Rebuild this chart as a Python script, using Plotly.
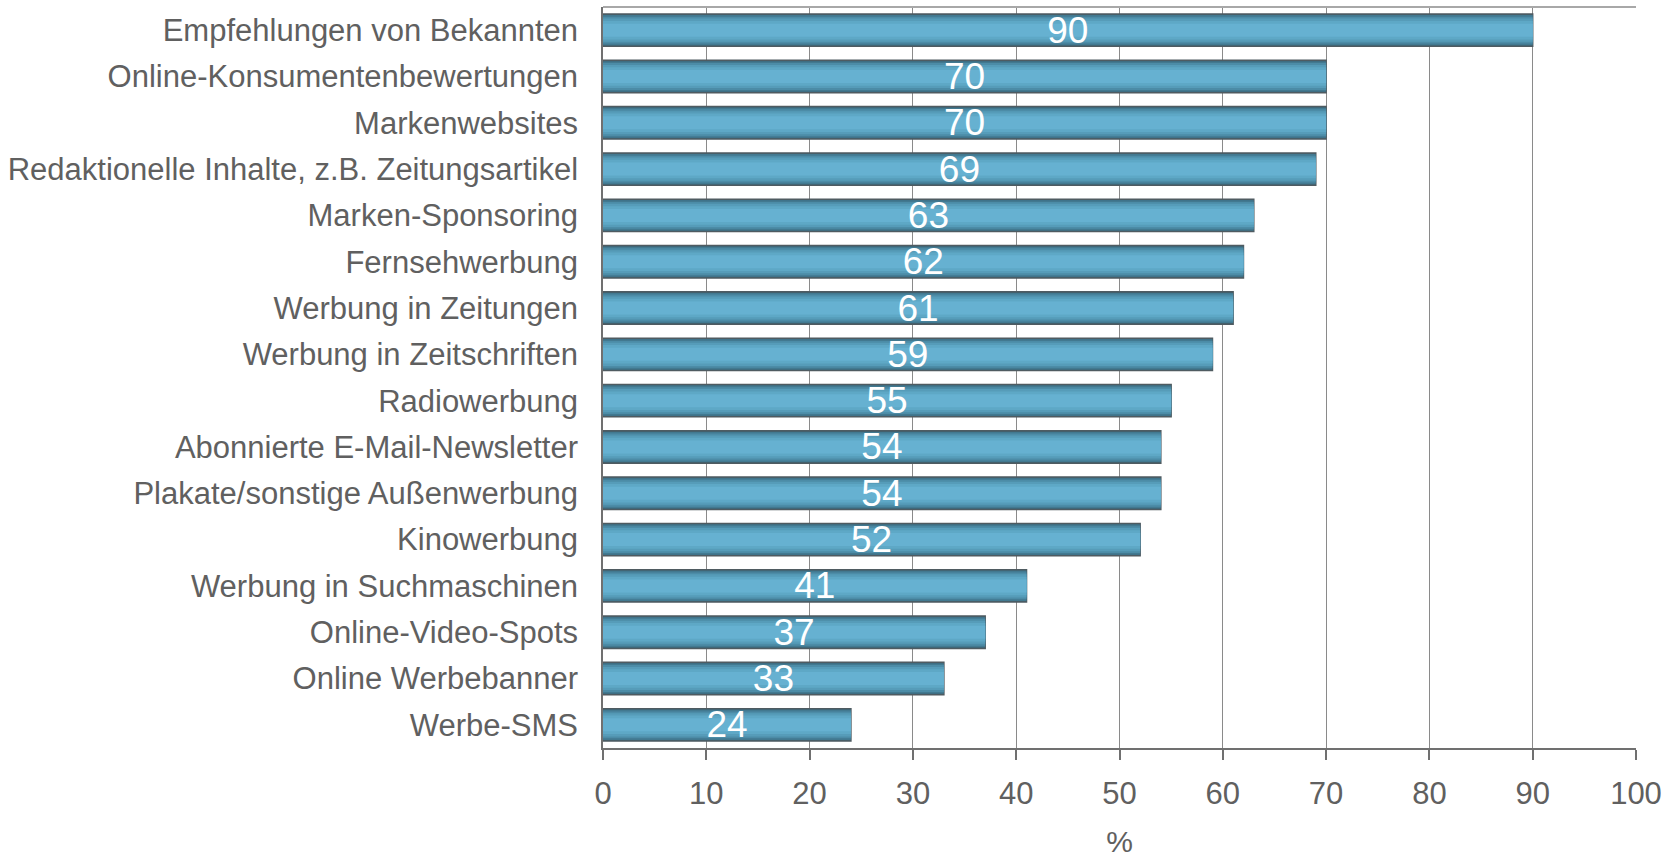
import plotly.graph_objects as go

categories = [
    "Empfehlungen von Bekannten",
    "Online-Konsumentenbewertungen",
    "Markenwebsites",
    "Redaktionelle Inhalte, z.B. Zeitungsartikel",
    "Marken-Sponsoring",
    "Fernsehwerbung",
    "Werbung in Zeitungen",
    "Werbung in Zeitschriften",
    "Radiowerbung",
    "Abonnierte E-Mail-Newsletter",
    "Plakate/sonstige Außenwerbung",
    "Kinowerbung",
    "Werbung in Suchmaschinen",
    "Online-Video-Spots",
    "Online Werbebanner",
    "Werbe-SMS",
]
values = [90, 70, 70, 69, 63, 62, 61, 59, 55, 54, 54, 52, 41, 37, 33, 24]
x_ticks = [0, 10, 20, 30, 40, 50, 60, 70, 80, 90, 100]

# gradient layers (outer -> inner)
layers = [
    (0.70, "#3a6577"),
    (0.65, "#427990"),
    (0.58, "#4c8ca7"),
    (0.50, "#569cb9"),
    (0.40, "#5ea8c6"),
    (0.28, "#66b1d1"),
]

fig = go.Figure()
for i, (w, c) in enumerate(layers):
    last = i == len(layers) - 1
    fig.add_trace(go.Bar(
        y=categories,
        x=values,
        orientation="h",
        width=w,
        marker=dict(color=c,
                    line=dict(color="#4f5b61", width=1.5) if i == 0 else dict(width=0)),
        text=[str(v) for v in values] if last else None,
        textposition="inside" if last else "none",
        insidetextanchor="middle",
        textangle=0,
        constraintext="none",
        textfont=dict(family="Liberation Sans, Arial, sans-serif", size=37, color="white"),
        hoverinfo="skip" if not last else "x+y",
        showlegend=False,
    ))

fig.update_layout(
    barmode="overlay",
    width=1679,
    height=858,
    margin=dict(l=603, r=43, t=7, b=110, autoexpand=False),
    paper_bgcolor="white",
    plot_bgcolor="white",
    font=dict(family="Liberation Sans, Arial, sans-serif", color="#606060"),
)
fig.update_xaxes(
    range=[0, 100],
    tickvals=x_ticks,
    ticktext=[str(t) for t in x_ticks],
    tickfont=dict(size=31, color="#606060"),
    ticks="outside",
    ticklen=10,
    tickwidth=2,
    tickcolor="#707070",
    showline=True,
    linecolor="#707070",
    linewidth=2,
    mirror=False,
    showgrid=True,
    gridcolor="#8a8a8a",
    gridwidth=1,
    zeroline=False,
    automargin=False,
    ticklabelstandoff=7,
    title=dict(text="%", font=dict(size=30, color="#606060"), standoff=28),
)
fig.update_yaxes(
    autorange="reversed",
    tickfont=dict(size=31, color="#606060"),
    ticks="",
    showline=True,
    linecolor="#707070",
    linewidth=1.5,
    automargin=False,
    ticklabelstandoff=17,
    showgrid=False,
)
# top border line
fig.add_shape(type="line", xref="paper", yref="paper", x0=0, x1=1, y0=1, y1=1,
              line=dict(color="#a8a8a8", width=2))

fig.write_html("out.html", config={"displayModeBar": False},
               post_script="document.body.style.margin='0px';")
